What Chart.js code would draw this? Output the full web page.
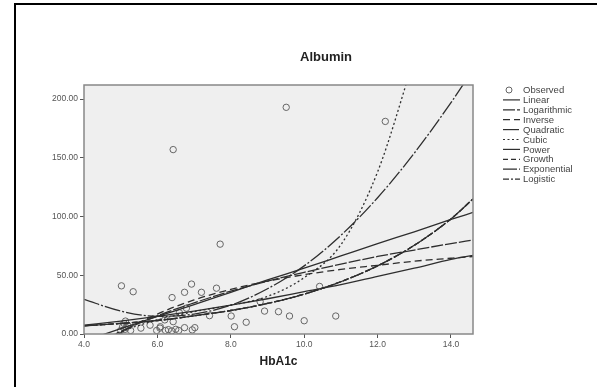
<!DOCTYPE html>
<html>
<head>
<meta charset="utf-8">
<title>Albumin</title>
<script src="https://cdn.jsdelivr.net/npm/chart.js@4.4.1/dist/chart.umd.min.js"></script>
<style>
  html, body { margin: 0; padding: 0; background: #fff; }
  #wrap { position: relative; width: 597px; height: 387px; overflow: hidden; }
  #c { position: absolute; left: 0; top: 0; }
  #frame { position: absolute; left: 14px; top: 3px; width: 640px; height: 420px;
           border-left: 2px solid #000; border-top: 2px solid #000; pointer-events: none; }
</style>
</head>
<body>
<div id="wrap">
  <canvas id="c" width="597" height="387"></canvas>
  <div id="frame"></div>
</div>
<script>
// Observed HbA1c / albumin pairs
const observedX = [5.02, 5.34, 6.43, 6.40, 6.93, 6.74, 7.20, 7.61, 7.71, 9.51, 12.21, 10.42,
                   8.80, 8.92, 9.30, 9.60, 10.00, 10.86, 8.01, 8.10, 8.42, 7.42, 6.79, 6.74,
                   7.02, 6.43, 6.07, 6.30, 6.58, 5.55, 5.80, 5.13, 5.09, 5.05, 5.12, 5.20,
                   5.00, 5.27, 5.98, 6.22, 6.39, 6.08, 6.50, 6.95, 5.15, 6.20, 6.60];
const observedY = [41, 36, 157, 31, 42.5, 35.5, 35.5, 39, 76.5, 193, 181, 40.5,
                   27.5, 19.5, 19, 15.3, 11.3, 15.3, 15.3, 6.2, 10, 15.6, 22, 5.4,
                   5.4, 10.5, 5, 3.7, 3, 5, 7.5, 11, 9, 6, 4, 7,
                   3, 3, 3, 3, 2.6, 6.2, 4, 3.5, 5.5, 12, 18];

// Fitted curves, sampled along HbA1c
const curveX        = [4, 5, 6, 7, 8, 9, 10, 11, 12, 13, 14, 14.6];
const linearY       = [-6, 4.5, 15, 25, 35.5, 46, 56, 66.5, 77, 87, 97.5, 103.5];
const logarithmicY  = [-14, 2, 15.5, 26.5, 36.5, 45, 52.5, 59.5, 66, 71.5, 77, 80];
const inverseY      = [-24, 1, 17, 29, 38, 45, 50.5, 55, 58.5, 62, 64.5, 66];
const quadraticY    = [29.5, 19.5, 15, 17, 24.5, 38.5, 58, 84, 116, 154, 197, 225];
const cubicY        = [-12, 2, 12, 19, 24.5, 32, 48, 76, 138, 235, null, null];
const powerY        = [7.5, 11, 15, 19.5, 24.5, 30, 36, 42, 49, 56, 63.5, 67];
const growthY       = [7, 9, 11.5, 15.5, 20, 26, 34, 44.5, 58, 75.5, 98, 115];
const exponentialY  = [7, 9, 11.5, 15.5, 20, 26, 34, 44.5, 58, 75.5, 98, 115];
const logisticY     = [7, 9, 11.5, 15.5, 20, 26, 34, 44.5, 58, 75.5, 98, 115];

const seriesNames = ['Observed', 'Linear', 'Logarithmic', 'Inverse', 'Quadratic',
                     'Cubic', 'Power', 'Growth', 'Exponential', 'Logistic'];

const xTicks = [4, 6, 8, 10, 12, 14];
const xTickLabels = ['4.0', '6.0', '8.0', '10.0', '12.0', '14.0'];
const yTicks = [0, 50, 100, 150, 200];
const yTickLabels = ['0.00', '50.00', '100.00', '150.00', '200.00'];

const chartTitle = 'Albumin';
const xTitle = 'HbA1c';

const FONT = "'Liberation Sans', Arial, sans-serif";
const INK = '#2e2e2e';

function pairs(xs, ys) {
  const out = [];
  for (let i = 0; i < xs.length; i++) out.push({ x: xs[i], y: ys[i] });
  return out;
}

const curveDefs = [
  { y: linearY,      dash: [] },
  { y: logarithmicY, dash: [12, 2] },
  { y: inverseY,     dash: [7, 4] },
  { y: quadraticY,   dash: [16, 2, 2, 2] },
  { y: cubicY,       dash: [2, 2.5] },
  { y: powerY,       dash: [] },
  { y: growthY,      dash: [5, 3] },
  { y: exponentialY, dash: [14, 2] },
  { y: logisticY,    dash: [6, 2, 2, 2] }
];

const datasets = [{
  label: seriesNames[0],
  data: pairs(observedX, observedY),
  showLine: false,
  pointStyle: 'circle',
  pointRadius: 3.2,
  pointBorderWidth: 1,
  pointBorderColor: '#666',
  pointBackgroundColor: 'rgba(0,0,0,0)',
  order: 1
}];
curveDefs.forEach((d, i) => {
  datasets.push({
    label: seriesNames[i + 1],
    data: pairs(curveX, d.y),
    showLine: true,
    borderColor: INK,
    borderWidth: 1.3,
    borderDash: d.dash,
    pointRadius: 0,
    cubicInterpolationMode: 'monotone',
    spanGaps: false,
    order: 0
  });
});

// plot background, frame, title, axis title and legend
const decor = {
  id: 'decor',
  beforeDatasetsDraw(chart) {
    const { ctx, chartArea: a } = chart;
    ctx.save();
    ctx.fillStyle = '#efefef';
    ctx.fillRect(a.left, a.top, a.right - a.left, a.bottom - a.top);
    ctx.restore();
  },
  afterDatasetsDraw(chart) {
    const { ctx, chartArea: a } = chart;
    ctx.save();
    ctx.strokeStyle = '#888';
    ctx.lineWidth = 1.5;
    ctx.strokeRect(a.left, a.top, a.right - a.left, a.bottom - a.top);
    ctx.restore();
  },
  afterDraw(chart) {
    const { ctx, chartArea: a } = chart;
    ctx.save();
    ctx.fillStyle = '#222';
    ctx.textAlign = 'center';
    ctx.textBaseline = 'middle';
    ctx.font = 'bold 13px ' + FONT;
    ctx.fillText(chartTitle, 326, 57);
    ctx.font = 'bold 12px ' + FONT;
    ctx.fillText(xTitle, (a.left + a.right) / 2, 362);

    // legend
    const lx = 503, tx = 523, ly0 = 90, step = 9.9;
    ctx.textAlign = 'left';
    ctx.font = '9.5px ' + FONT;
    chart.data.datasets.forEach((ds, i) => {
      const y = ly0 + i * step;
      ctx.strokeStyle = i === 0 ? '#666' : INK;
      ctx.lineWidth = i === 0 ? 1 : 1.2;
      if (i === 0) {
        ctx.setLineDash([]);
        ctx.beginPath();
        ctx.arc(509, y, 3, 0, Math.PI * 2);
        ctx.stroke();
      } else {
        ctx.setLineDash(ds.borderDash || []);
        ctx.beginPath();
        ctx.moveTo(lx, y);
        ctx.lineTo(lx + 17, y);
        ctx.stroke();
      }
      ctx.fillStyle = '#444';
      ctx.fillText(ds.label, tx, y + 0.5);
    });
    ctx.restore();
  }
};

new Chart(document.getElementById('c'), {
  type: 'scatter',
  data: { datasets },
  options: {
    responsive: false,
    animation: false,
    devicePixelRatio: 1,
    layout: { padding: { left: 20, right: 124, top: 85, bottom: 0 } },
    plugins: { legend: { display: false }, title: { display: false }, tooltip: { enabled: false } },
    scales: {
      x: {
        type: 'linear',
        min: 4, max: 14.6,
        afterBuildTicks: s => { s.ticks = xTicks.map(v => ({ value: v })); },
        afterFit: s => { s.height = 53; },
        border: { display: false },
        grid: { drawOnChartArea: false, tickLength: 4, color: '#555' },
        ticks: {
          padding: 2, color: '#555', font: { family: FONT, size: 8.5 },
          maxRotation: 0, autoSkip: false,
          callback: (v) => xTickLabels[xTicks.indexOf(v)]
        }
      },
      y: {
        type: 'linear',
        min: 0, max: 212,
        afterBuildTicks: s => { s.ticks = yTicks.map(v => ({ value: v })); },
        afterFit: s => { s.width = 64; },
        border: { display: false },
        grid: { drawOnChartArea: false, tickLength: 4, color: '#555' },
        ticks: {
          padding: 2, color: '#555', font: { family: FONT, size: 8.5 },
          autoSkip: false,
          callback: (v) => yTickLabels[yTicks.indexOf(v)]
        }
      }
    }
  },
  plugins: [decor]
});
</script>
</body>
</html>
